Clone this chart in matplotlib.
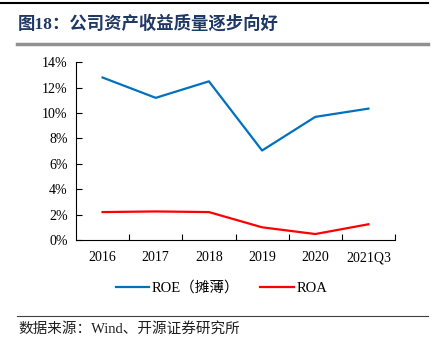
import matplotlib
matplotlib.use('Agg')
import matplotlib.pyplot as plt
from matplotlib.lines import Line2D

plt.rcParams['font.family'] = ['Liberation Serif', 'Noto Sans CJK SC', 'DejaVu Sans']

years = ['2016', '2017', '2018', '2019', '2020', '2021Q3']
roe = [12.8, 11.2, 12.5, 7.05, 9.7, 10.35]
roa = [2.2, 2.25, 2.2, 1.0, 0.47, 1.24]

fig = plt.figure(figsize=(4.32, 3.54), dpi=100)
ax = fig.add_axes([76 / 432, 114 / 354, 319 / 432, 177.7 / 354])

x = list(range(len(years)))
ax.plot(x, roe, color='#0070C0', lw=1.6, label='ROE（摊薄）')
ax.plot(x, roa, color='#FF0000', lw=1.6, label='ROA')

ax.set_xlim(-0.5, len(years) - 0.5)
ax.set_ylim(0, 14)
ax.set_yticks(range(0, 15, 2))
ax.set_yticklabels([f'{v}%' for v in range(0, 15, 2)], fontsize=10)
ax.set_xticks(x)
ax.set_xticklabels(years, fontsize=10)
ax.set_xticks([i + 0.5 for i in x], minor=True)
ax.tick_params(axis='x', which='major', length=0, pad=8)
ax.tick_params(axis='x', which='minor', direction='in', length=4, width=0.8)
ax.tick_params(axis='y', direction='in', length=4, width=0.8, pad=6)
for s in ['top', 'right']:
    ax.spines[s].set_visible(False)
for s in ['left', 'bottom']:
    ax.spines[s].set_linewidth(0.8)

fig.legend(loc='center', bbox_to_anchor=(221.5 / 432, 1 - 288 / 354), ncol=2, frameon=False,
           fontsize=10.5, handlelength=2.3, columnspacing=1.4, handletextpad=0.2)

# header / footer rules
fig.add_artist(Line2D([0, 428 / 432], [1 - 2.5 / 354] * 2, color='black', lw=1.5))
fig.add_artist(Line2D([17 / 432, 428 / 432], [1 - 44 / 354] * 2, color='#909090', lw=2.5))
fig.add_artist(Line2D([17 / 432, 428 / 432], [1 - 316 / 354] * 2, color='#404040', lw=0.8))

fig.text(18 / 432, 1 - 24 / 354, '图18：公司资产收益质量逐步向好', fontsize=12.5, fontweight='bold',
         color='#1F3864', va='center', ha='left')
fig.text(18 / 432, 1 - 329 / 354, '数据来源：Wind、开源证券研究所', fontsize=10.5,
         color='#202020', va='center', ha='left')

fig.savefig('out.png', dpi=100)
